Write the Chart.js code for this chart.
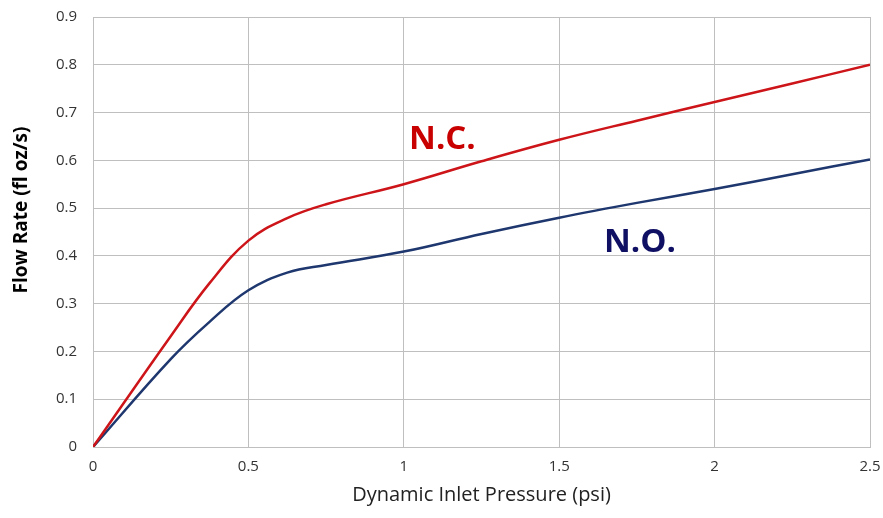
<!DOCTYPE html>
<html>
<head>
<meta charset="utf-8">
<script src="https://cdn.jsdelivr.net/npm/chart.js@4.4.1/dist/chart.umd.min.js"></script>
<style>
  html, body { margin: 0; padding: 0; background: #fff; }
  #flowChart { display: block; }
</style>
</head>
<body>
<canvas id="flowChart" width="883" height="518"></canvas>
<script>
// values
const pressure = [0, 0.25, 0.375, 0.5, 0.625, 0.75, 1, 1.25, 1.5, 1.75, 2, 2.25, 2.5];
const ncFlow = [0, 0.232, 0.343, 0.432, 0.479, 0.508, 0.55, 0.598, 0.643, 0.683, 0.722, 0.761, 0.80];
const noFlow = [0, 0.184, 0.262, 0.328, 0.365, 0.381, 0.409, 0.446, 0.48, 0.511, 0.54, 0.571, 0.602];

const xTickLabels = ['0', '0.5', '1', '1.5', '2', '2.5'];
const yTickLabels = ['0', '0.1', '0.2', '0.3', '0.4', '0.5', '0.6', '0.7', '0.8', '0.9'];

// series labels written on the plot, anchored in data units (left, baseline)
const seriesNames = ['N.C.', 'N.O.'];
const nameAnchorX = [1.017, 1.644];
const nameAnchorY = [0.624, 0.409];

const gridGray = '#bfbfbf';
const tickFont = { family: 'Open Sans', size: 15 };

const toPoints = (xs, ys) => xs.map((x, i) => ({ x: x, y: ys[i] }));

const seriesLabels = {
    id: 'seriesLabels',
    afterDatasetsDraw(chart) {
        const ctx = chart.ctx;
        const xs = chart.scales.x, ys = chart.scales.y;
        const colors = ['rgb(200,0,0)', 'rgb(15,15,100)'];
        ctx.save();
        ctx.font = 'bold 33px "Open Sans"';
        ctx.textAlign = 'left';
        ctx.textBaseline = 'alphabetic';
        seriesNames.forEach((name, i) => {
            ctx.fillStyle = colors[i];
            ctx.fillText(name, xs.getPixelForValue(nameAnchorX[i]), ys.getPixelForValue(nameAnchorY[i]));
        });
        // y axis title, centred where the original sits
        ctx.translate(22, 210);
        ctx.rotate(-Math.PI / 2);
        ctx.font = 'bold 19px "Open Sans"';
        ctx.textAlign = 'center';
        ctx.textBaseline = 'middle';
        ctx.fillStyle = '#000';
        ctx.fillText('Flow Rate (fl oz/s)', 0, 0);
        ctx.restore();
    }
};

const ctx = document.getElementById('flowChart').getContext('2d');

const flowChart = new Chart(ctx, {
    type: 'line',
    data: {
        datasets: [{
            label: 'N.C.',
            data: toPoints(pressure, ncFlow),
            borderColor: 'rgb(205,20,25)',
            borderWidth: 2.5,
            pointRadius: 0,
            tension: 0.4,
            fill: false
        }, {
            label: 'N.O.',
            data: toPoints(pressure, noFlow),
            borderColor: 'rgb(30,55,110)',
            borderWidth: 2.5,
            pointRadius: 0,
            tension: 0.4,
            fill: false
        }]
    },
    options: {
        responsive: false,
        animation: false,
        devicePixelRatio: 1,
        layout: { padding: { left: 0, right: 13, top: 17, bottom: 0 } },
        plugins: {
            legend: { display: false },
            tooltip: { enabled: false }
        },
        scales: {
            x: {
                type: 'linear',
                min: 0,
                max: 2.5,
                grid: { color: gridGray, drawTicks: false },
                border: { color: gridGray },
                ticks: {
                    stepSize: 0.5,
                    padding: 11,
                    color: '#333',
                    font: tickFont,
                    callback: (v, i) => xTickLabels[i]
                },
                title: {
                    display: true,
                    text: 'Dynamic Inlet Pressure (psi)',
                    color: '#222',
                    font: { family: 'Open Sans', size: 20 },
                    padding: { top: 0, bottom: 11 }
                },
                afterFit: (scale) => {
                    scale.height = 71;
                    scale.paddingLeft = 0;
                    scale.paddingRight = 0;
                }
            },
            y: {
                min: 0,
                max: 0.9,
                grid: { color: gridGray, drawTicks: false },
                border: { color: gridGray },
                ticks: {
                    stepSize: 0.1,
                    padding: 16,
                    color: '#333',
                    font: tickFont,
                    callback: (v, i) => yTickLabels[i]
                },
                afterFit: (scale) => {
                    scale.width = 93;
                    scale.paddingTop = 0;
                    scale.paddingBottom = 0;
                }
            }
        }
    },
    plugins: [seriesLabels]
});
</script>
</body>
</html>
